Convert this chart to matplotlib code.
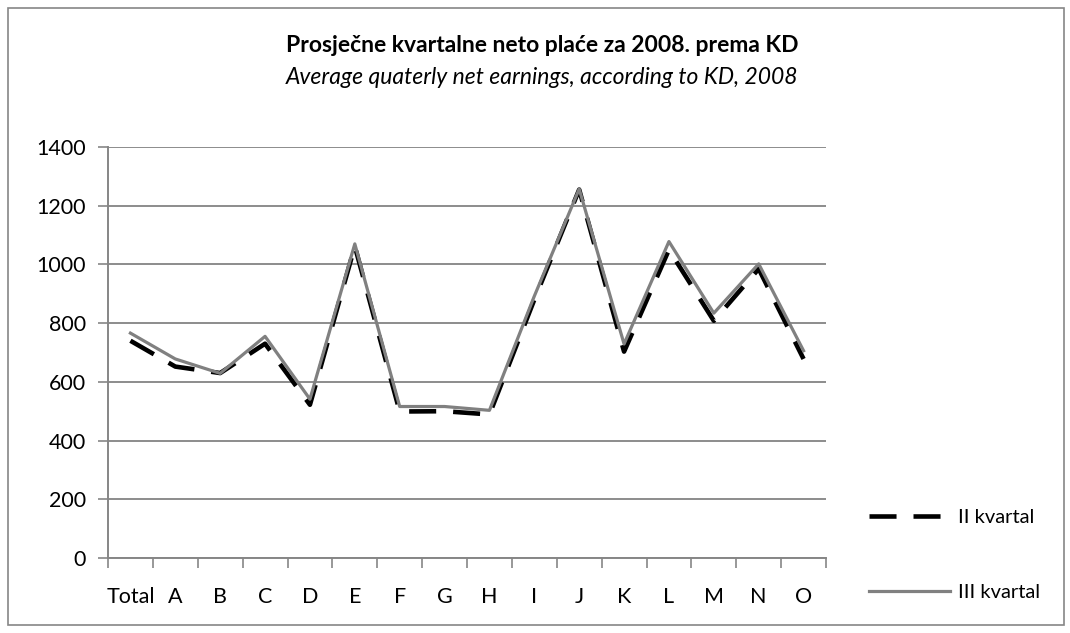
import numpy as np
import matplotlib.pyplot as plt
from matplotlib.patches import Rectangle

plt.rcParams['font.family'] = ['Lato', 'DejaVu Sans']

categories = ["Total", "A", "B", "C", "D", "E", "F", "G", "H", "I", "J", "K", "L", "M", "N", "O"]
q2 = [740, 652, 630, 730, 522, 1062, 499, 500, 489, 880, 1255, 703, 1050, 808, 985, 678]
q3 = [766, 678, 629, 755, 541, 1070, 516, 516, 503, 892, 1257, 729, 1078, 834, 1002, 706]

W, H = 1070, 633
fig = plt.figure(figsize=(W / 100, H / 100), dpi=100)
ax = fig.add_axes([108 / W, 1 - 558 / H, (826 - 108) / W, (558 - 147) / H])

x = np.arange(len(categories))
ax.plot(x, q2, color='black', lw=3.3, dashes=(5.9, 3.7), label='II kvartal')
ax.plot(x, q3, color='#808080', lw=2.3, label='III kvartal')

ax.set_xlim(-0.5, len(categories) - 0.5)
ax.set_ylim(0, 1400)
ax.set_yticks(range(0, 1401, 200))
ax.set_xticks(x)
ax.set_xticklabels(categories)
ax.set_xticks(np.arange(-0.5, len(categories)), minor=True)
ax.tick_params(axis='x', which='major', length=0, pad=21, labelsize=15.5)
ax.tick_params(axis='x', which='minor', length=7, color='#868686', width=1.2)
ax.tick_params(axis='y', length=7, color='#868686', width=1.2, labelsize=15.5, pad=9)

ax.grid(axis='y', color='#8c8c8c', lw=1.4)
ax.set_axisbelow(True)
for s in ['top', 'right']:
    ax.spines[s].set_visible(False)
for s in ['left', 'bottom']:
    ax.spines[s].set_color('#868686')
    ax.spines[s].set_linewidth(1.4)

fig.text(0.507, 1 - 46 / H, "Prosječne kvartalne neto plaće za 2008. prema KD",
         ha='center', va='center', fontsize=16.5, fontweight='bold')
fig.text(0.507, 1 - 78 / H, "Average quaterly net earnings, according to KD, 2008",
         ha='center', va='center', fontsize=16.5, style='italic')

fig.legend(loc='center left', bbox_to_anchor=(869 / W, 1 - 555 / H), frameon=False,
           borderpad=0, borderaxespad=0,
           fontsize=14.5, handlelength=4.0, handletextpad=0.4, labelspacing=2.9)

fig.add_artist(Rectangle((8 / W, 8 / H), (1064 - 8) / W, (625 - 8) / H,
                         transform=fig.transFigure, fill=False,
                         edgecolor='#868686', lw=1.2))

plt.savefig("out.png", dpi=100)
